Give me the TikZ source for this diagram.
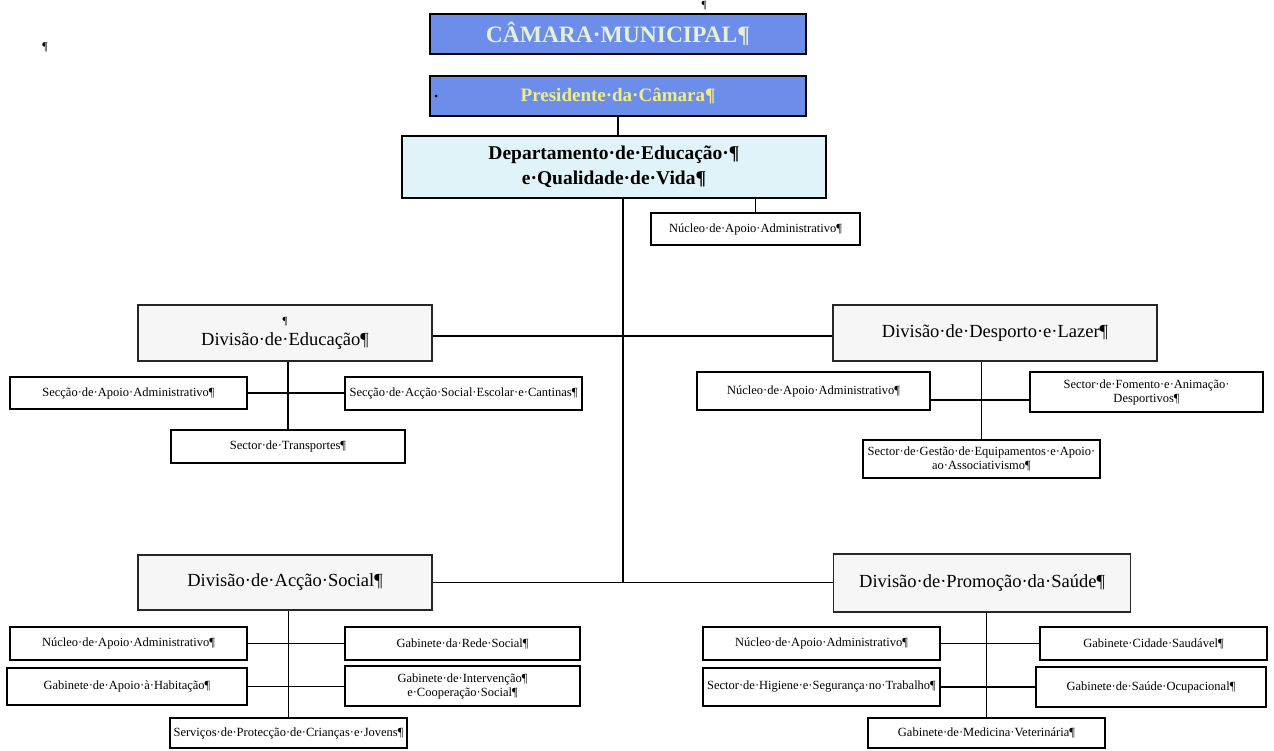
\documentclass[tikz,border=0pt]{standalone}
\usepackage{fontspec}
\setmainfont{Liberation Serif}
\begin{document}
\begin{tikzpicture}[x=1pt,y=-1pt,
  topbox/.style={draw=black,line width=2pt,fill=topblue,inner sep=0pt},
  deptbox/.style={draw=black,line width=1.6pt,fill=deptcyan,inner sep=0pt,align=center,font=\fontsize{19.5}{25}\selectfont\bfseries},
  divbox/.style={draw=black!85,line width=1.5pt,fill=divgray,inner sep=0pt,align=center,font=\fontsize{18.5}{21}\selectfont},
  unitbox/.style={draw=black,line width=1.1pt,fill=white,inner sep=0pt,align=center,font=\fontsize{12.5}{14}\selectfont},
  link/.style={draw=black,line width=1.4pt}]
\definecolor{topblue}{HTML}{6C8EEA}
\definecolor{deptcyan}{HTML}{DFF3F8}
\definecolor{divgray}{HTML}{F6F6F6}
\definecolor{captext}{HTML}{E6F0D2}
\definecolor{prestext}{HTML}{EEEE88}
\useasboundingbox (0,0) rectangle (1274,750);

% stray paragraph marks
\node[font=\fontsize{11}{12}\selectfont] (pm1) at (704,6) {¶};
\node[font=\fontsize{12}{13}\selectfont] (pm2) at (45,47) {¶};

% council and presidency
\node[topbox,minimum width=376pt,minimum height=40pt,text=captext,font=\fontsize{23.5}{26}\selectfont\bfseries] (cm) at (618,34) {CÂMARA·MUNICIPAL¶};
\node[topbox,minimum width=376pt,minimum height=40pt,text=prestext,font=\fontsize{19}{22}\selectfont\bfseries] (pres) at (618,96) {Presidente·da·Câmara¶};
\fill[black] (pres.west) ++(7,0) circle (1.5pt);

% department
\node[deptbox,minimum width=424pt,minimum height=62pt] (dept) at (614,167) {Departamento·de·Educação·¶\\e·Qualidade·de·Vida¶};
\node[unitbox,minimum width=209pt,minimum height=32pt] (nuc0) at (755.5,229) {Núcleo·de·Apoio·Administrativo¶};

% divisions
\node[divbox,minimum width=294pt,minimum height=56pt] (diveduc) at (285,333) {{\fontsize{11}{11}\selectfont ¶}\\Divisão·de·Educação¶};
\node[divbox,minimum width=324pt,minimum height=56pt] (divdesp) at (995,333) {Divisão·de·Desporto·e·Lazer¶};
\node[divbox,minimum width=294pt,minimum height=55pt] (divas) at (285,582.5) {Divisão·de·Acção·Social¶};
\node[divbox,minimum width=297pt,minimum height=58pt] (divps) at (982,583) {Divisão·de·Promoção·da·Saúde¶};

% units of the education division
\node[unitbox,minimum width=237pt,minimum height=32pt] (sapoio) at (128.5,393) {Secção·de·Apoio·Administrativo¶};
\node[unitbox,minimum width=237pt,minimum height=33pt] (sacs) at (463.5,393.5) {Secção·de·Acção·Social·Escolar·e·Cantinas¶};
\node[unitbox,minimum width=234pt,minimum height=33pt] (stransp) at (288,446.5) {Sector·de·Transportes¶};

% units of the sport and leisure division
\node[unitbox,minimum width=233pt,minimum height=38pt] (nuc1) at (813.5,391) {Núcleo·de·Apoio·Administrativo¶};
\node[unitbox,minimum width=233pt,minimum height=40pt] (fomento) at (1146.5,392) {Sector·de·Fomento·e·Animação·\\Desportivos¶};
\node[unitbox,minimum width=237pt,minimum height=38pt] (gestao) at (981.5,459) {Sector·de·Gestão·de·Equipamentos·e·Apoio·\\ao·Associativismo¶};

% units of the social action division
\node[unitbox,minimum width=237pt,minimum height=33pt] (nuc2) at (128.5,643.5) {Núcleo·de·Apoio·Administrativo¶};
\node[unitbox,minimum width=235pt,minimum height=33pt] (rede) at (462.5,643.5) {Gabinete·da·Rede·Social¶};
\node[unitbox,minimum width=240pt,minimum height=37pt] (habit) at (127,686.5) {Gabinete·de·Apoio·à·Habitação¶};
\node[unitbox,minimum width=235pt,minimum height=40pt] (interv) at (462.5,686) {Gabinete·de·Intervenção¶\\e·Cooperação·Social¶};
\node[unitbox,minimum width=237pt,minimum height=30pt] (servicos) at (288.5,733) {Serviços·de·Protecção·de·Crianças·e·Jovens¶};

% units of the health promotion division
\node[unitbox,minimum width=237pt,minimum height=33pt] (nuc3) at (821.5,643.5) {Núcleo·de·Apoio·Administrativo¶};
\node[unitbox,minimum width=227pt,minimum height=33pt] (cidade) at (1153.5,643.5) {Gabinete·Cidade·Saudável¶};
\node[unitbox,minimum width=237pt,minimum height=38pt] (higiene) at (821.5,687) {Sector·de·Higiene·e·Segurança·no·Trabalho¶};
\node[unitbox,minimum width=230pt,minimum height=40pt] (ocup) at (1151,687) {Gabinete·de·Saúde·Ocupacional¶};
\node[unitbox,minimum width=237pt,minimum height=30pt] (veter) at (986.5,733) {Gabinete·de·Medicina·Veterinária¶};

% main trunk
\coordinate (trunk) at (623,582.5);
\draw[link] (pres.south) -- (pres.south |- dept.north);
\draw[link] (dept.south -| trunk) -- (trunk);
\draw[link] (nuc0.north) -- (nuc0.north |- dept.south);
\draw[link] ([yshift=-3pt]diveduc.east) -- ([yshift=-3pt]diveduc.east -| divdesp.west);
\draw[link] (divas.east) -- (divas.east -| divps.west);

% education division branches
\draw[link] (diveduc.south -| stransp.north) -- (stransp.north);
\draw[link] (sapoio.east) -- (sapoio.east -| sacs.west);

% sport division branches
\draw[link] (divdesp.south -| gestao.north) -- (gestao.north);
\draw[link] ([yshift=-9pt]nuc1.east) -- ([yshift=-9pt]nuc1.east -| fomento.west);

% social action branches
\draw[link] (divas.south -| servicos.north) -- (servicos.north);
\draw[link] (nuc2.east) -- (nuc2.east -| rede.west);
\draw[link] (habit.east) -- (habit.east -| interv.west);

% health promotion branches
\draw[link] (divps.south -| veter.north) -- (veter.north);
\draw[link] (nuc3.east) -- (nuc3.east -| cidade.west);
\draw[link] (higiene.east) -- (higiene.east -| ocup.west);
\end{tikzpicture}
\end{document}
